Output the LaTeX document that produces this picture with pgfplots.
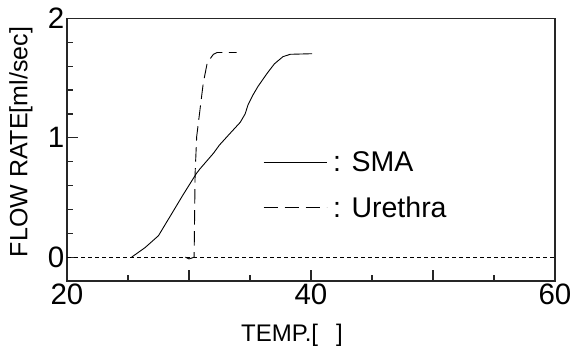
\documentclass[border=0pt]{standalone}
\usepackage{fontspec}
\setmainfont{Liberation Sans}
\usepackage{pgfplots}
\pgfplotsset{compat=1.18}
\pgfplotsset{
  legline/.style={legend image code/.code={\draw[##1] (0pt,0pt) -- (63pt,0pt);}},
}
\begin{document}
\begin{tikzpicture}
\path[use as bounding box] (-67pt,-68pt) rectangle (510pt,281pt);
\begin{axis}[
  at={(0pt,0pt)}, anchor=south west,
  scale only axis, width=488pt, height=262.5pt,
  xmin=20, xmax=60, ymin=-0.2, ymax=2,
  axis line style={line width=1.3pt, black!85},
  xtick={20,30,40,50,60}, xticklabels={20,,40,,60},
  minor x tick num=1,
  ytick={0,1,2}, yticklabels={0,1,2}, minor y tick num=4,
  tick align=inside, xtick pos=left, ytick pos=left,
  major tick length=11pt, minor tick length=6pt,
  every tick/.style={line width=1.2pt, black!85},
  ticklabel style={font=\fontsize{29.5}{32}\selectfont},
  xticklabel style={inner sep=3pt},
  yticklabel style={inner sep=2.5pt},
  /pgf/number format/assume math mode=true,
  xlabel={TEMP.[\hspace{0.75em}]},
  ylabel={FLOW RATE[ml/sec]},
  xlabel style={font=\fontsize{24}{28}\selectfont, at={(axis description cs:0.461,-0.2076)}, anchor=center},
  ylabel style={font=\fontsize{25}{28}\selectfont, at={(axis description cs:-0.0943,0.5295)}, anchor=center},
  legend style={at={(axis description cs:0.3955,0.5)}, anchor=north west, draw=none, fill=none,
    font=\fontsize{28.5}{31}\selectfont, row sep=23.5pt, column sep=6pt, nodes={inner sep=0pt}},
  legend cell align=left,
]
\addplot[black, line width=0.8pt, dash pattern=on 4pt off 3pt, forget plot] coordinates {(20,0) (60,0)};
\addplot[black, line width=0.9pt, legline] coordinates {
(25.3,0) (26.4,0.08) (27.5,0.18) (28.5,0.35) (29.5,0.52) (30.6,0.70) (30.9,0.74)
(32.0,0.87) (32.5,0.94) (33.3,1.03) (34.2,1.13) (34.6,1.20) (34.85,1.28) (35.25,1.36)
(35.65,1.43) (36.4,1.54) (37.0,1.62) (37.7,1.68) (38.3,1.70) (40.1,1.705)};
\addlegendentry{: SMA}
\addplot[black, line width=0.9pt, dash pattern=on 14.5pt off 6.5pt, legline] coordinates {
(29.7,0) (30.0,-0.015) (30.3,-0.005) (30.42,0) (30.5,0.70) (30.63,1.01) (30.9,1.235)
(31.17,1.46) (31.5,1.63) (32.0,1.70) (32.3,1.715) (33.9,1.715)};
\addlegendentry{: Urethra}
\end{axis}
\end{tikzpicture}
\end{document}
